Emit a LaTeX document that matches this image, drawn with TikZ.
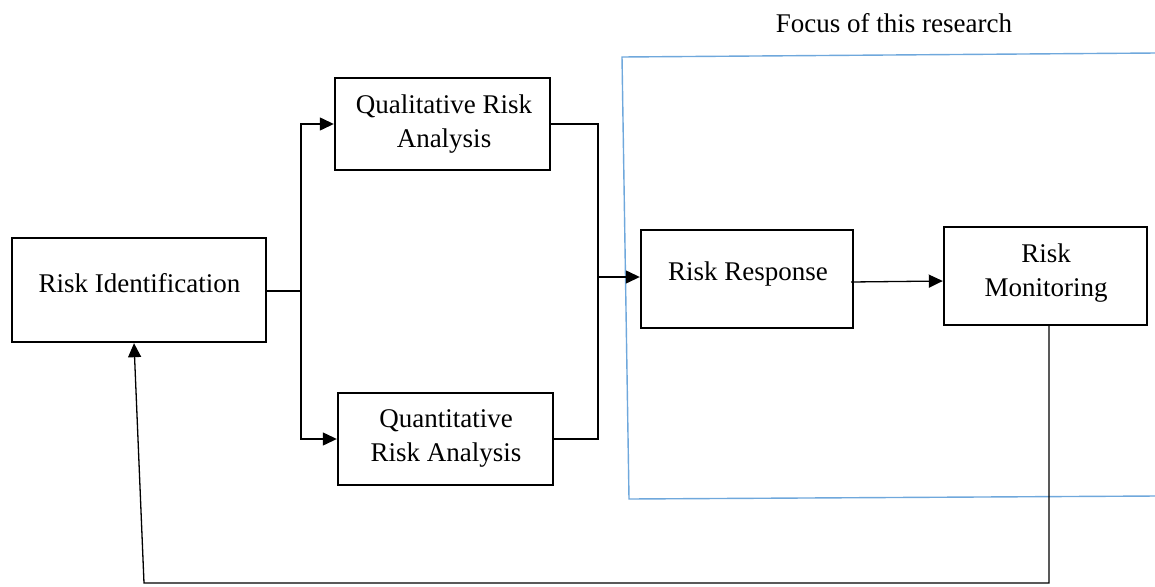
\documentclass[tikz,border=0pt]{standalone}
\usepackage{fontspec}
\setmainfont{Liberation Serif}
\usetikzlibrary{arrows.meta,calc}
\definecolor{focusblue}{HTML}{6FA8DC}
\tikzset{
  box/.style={draw=black,line width=2.4pt,inner sep=0pt},
  txt/.style={align=center,inner sep=0pt,font=\fontsize{27}{34}\selectfont},
  conn/.style={draw=black,line width=1.3pt},
  arrowconn/.style={conn,-{Triangle[length=14pt,width=13pt]}},
  focus/.style={draw=focusblue,line width=1.4pt}
}
\begin{document}
\begin{tikzpicture}[x=1pt,y=-1pt]
\useasboundingbox (0,0) rectangle (1155,586);

% process boxes
\node[box,minimum width=254pt,minimum height=104pt] (ri) at (139,290) {};
\node[box,minimum width=215pt,minimum height=92pt] (qual) at (442.5,124) {};
\node[box,minimum width=215pt,minimum height=92pt] (quant) at (445.5,439) {};
\node[box,minimum width=212pt,minimum height=98pt] (rr) at (747,279) {};
\node[box,minimum width=203pt,minimum height=98pt] (rm) at (1045.5,276) {};

% box labels
\node[txt] (ri-t) at (139.5,283) {Risk Identification};
\node[txt] (qual-t) at (444,124) {Qualitative Risk\\Analysis};
\node[txt] (quant-t) at (446,438) {Quantitative\\Risk Analysis};
\node[txt] (rr-t) at (748,274) {Risk Response};
\node[txt] (rm-t) at (1046,273.5) {Risk\\Monitoring};

% research focus frame
\node[txt] (focus-t) at (894,23) {Focus of this research};
\draw[focus] (1157,53) -- (622,57) -- (629,499) -- (1157,496);

% split after identification
\coordinate (split) at (301,291);
\draw[conn] (ri.east |- split) -- (split);
\draw[arrowconn] (split) |- (qual.west);
\draw[arrowconn] (split) |- (quant.west);

% merge into response
\coordinate (merge) at (598,277);
\draw[conn] (qual.east) -| (merge);
\draw[conn] (quant.east) -| (merge);
\draw[arrowconn] (merge) -- (rr.west |- merge);

% response to monitoring
\draw[arrowconn] ([xshift=-3pt,yshift=-3pt]rr.east) -- ([yshift=-5pt]rm.west);

% feedback loop
\coordinate (fb1) at (1049,583);
\coordinate (fb2) at (144,583);
\draw[arrowconn] (fb1 |- rm.south) -- (fb1) -- (fb2) -- ([xshift=-5pt]ri.south);
\end{tikzpicture}
\end{document}
